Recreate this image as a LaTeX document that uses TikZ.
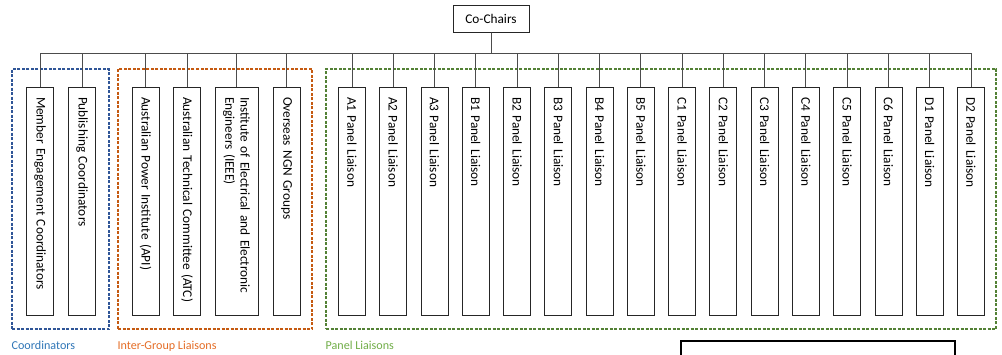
\documentclass[tikz,border=0pt]{standalone}
\usepackage{fontspec}
\setmainfont{Carlito}
\usepackage{tikz}
\usetikzlibrary{positioning}
\definecolor{coordblue}{HTML}{2F5597}
\definecolor{interorange}{HTML}{C55A11}
\definecolor{panelgreen}{HTML}{538135}
\definecolor{coordtext}{HTML}{2E75B6}
\definecolor{intertext}{HTML}{E46C25}
\definecolor{paneltext}{HTML}{70AD47}
\def\boxfont{\fontsize{6.65}{7.6}\selectfont}
\tikzstyle{chair} = [rectangle, draw=black!85, line width=0.5pt, minimum width=38pt, minimum height=13.5pt, inner sep=0pt, font=\boxfont]
\tikzstyle{role} = [rectangle, draw=black!85, line width=0.5pt, rotate=-90, minimum width=114pt, minimum height=13.5pt, inner xsep=5pt, inner ysep=0pt, text width=104pt, align=left, font=\boxfont]
\tikzstyle{link} = [draw=black!70, line width=0.5pt]
\tikzstyle{group} = [rectangle, dash pattern=on 1.5pt off 0.75pt, line width=0.75pt, minimum height=130pt]
\tikzstyle{grouplabel} = [inner sep=0pt, font=\fontsize{6.05}{7}\selectfont]

\begin{document}
\begin{tikzpicture}[x=0.5pt, y=-0.5pt]
  \useasboundingbox (0,0) rectangle (1002,354);

  % dashed groups and their captions
  \node (coordgrp) [group, draw=coordblue, minimum width=48.5pt] at (60.5,199) {};
  \node (intergrp) [group, draw=interorange, minimum width=97pt] at (215,199) {};
  \node (panelgrp) [group, draw=panelgreen, minimum width=335pt] at (661,199) {};

  \node (coordlbl) [grouplabel, text=coordtext, below right=5.5pt and 0pt of coordgrp.south west] {Coordinators};
  \node (interlbl) [grouplabel, text=intertext, below right=5.5pt and 0pt of intergrp.south west] {Inter-Group Liaisons};
  \node (panellbl) [grouplabel, text=paneltext, below right=5.5pt and 0pt of panelgrp.south west] {Panel Liaisons};

  \node (chairs) [chair] at (491,18.5) {Co-Chairs};

  % coordinators
  \node (meng) [role] at (40,201) {Member Engagement Coordinators};
  \node (pub)  [role] at (82,201) {Publishing Coordinators};

  % inter-group liaisons
  \node (api)  [role] at (145.5,201) {Australian Power Institute (API)};
  \node (atc)  [role] at (187,201) {Australian Technical Committee (ATC)};
  \node (ieee) [role, minimum height=21.5pt] at (236.5,201) {Institute of Electrical and Electronic\\Engineers (IEEE)};
  \node (ngn)  [role] at (286.5,201) {Overseas NGN Groups};

  % panel liaisons
  \foreach \p [count=\i from 0] in {A1,A2,A3,B1,B2,B3,B4,B5,C1,C2,C3,C4,C5,C6,D1,D2}
    \node (p\p) [role] at ({352+41.27*\i},201) {\p{} Panel Liaison};

  \foreach \n in {meng,pub,api,atc,ieee,ngn,pA1,pA2,pA3,pB1,pB2,pB3,pB4,pB5,pC1,pC2,pC3,pC4,pC5,pC6,pD1,pD2}
    \draw [link] (chairs.south) -- ++(0,21) -| (\n.west);

  \draw [line width=1pt] (681,341) rectangle (955,380);

\end{tikzpicture}
\end{document}
